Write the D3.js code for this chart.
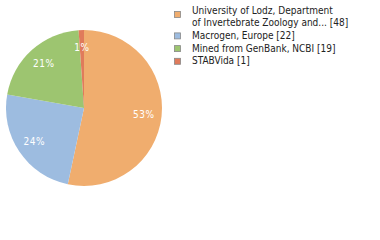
<!DOCTYPE html>
<html>
<head>
<meta charset="utf-8">
<script src="https://cdn.jsdelivr.net/npm/d3@7"></script>
<style>
  body { margin: 0; background: #fff; }
  text { font-family: "DejaVu Sans Condensed", "DejaVu Sans", sans-serif; }
</style>
</head>
<body>
<div id="chart"></div>
<script>
const labels = [
    ["University of Lodz, Department", "of Invertebrate Zoology and... [48]"],
    ["Macrogen, Europe [22]"],
    ["Mined from GenBank, NCBI [19]"],
    ["STABVida [1]"]
];
const counts = [48, 22, 19, 1];
const colors = ["#f0ad6e", "#9dbce0", "#9dc570", "#e07b5b"];

const width = 380, height = 240;
const cx = 84, cy = 108, radius = 78;

const svg = d3.select("#chart")
    .append("svg")
    .attr("width", width)
    .attr("height", height);

const total = d3.sum(counts);
const pie = d3.pie().sort(null).value(d => d)(counts);
const arc = d3.arc().innerRadius(0).outerRadius(radius);
const labelArc = d3.arc().innerRadius(radius * 0.77).outerRadius(radius * 0.77);

const g = svg.append("g").attr("transform", `translate(${cx},${cy})`);

g.selectAll("path")
    .data(pie)
    .enter()
    .append("path")
    .attr("d", arc)
    .attr("fill", (d, i) => colors[i]);

g.selectAll("text.pct")
    .data(pie)
    .enter()
    .append("text")
    .attr("class", "pct")
    .attr("transform", d => `translate(${labelArc.centroid(d)})`)
    .attr("text-anchor", "middle")
    .attr("dy", "0.35em")
    .attr("fill", "#fff")
    .style("font-size", "10px")
    .style("letter-spacing", "0.5px")
    .text(d => Math.round(d.data / total * 100) + "%");

// legend
const lineH = 12.7;
let y = 10;
const legend = svg.append("g");
labels.forEach((lines, i) => {
    legend.append("rect")
        .attr("x", 174.5)
        .attr("y", y - 2.5 + (lines.length - 1) * 4)
        .attr("width", 6)
        .attr("height", 6)
        .attr("fill", colors[i])
        .attr("stroke", "#888")
        .attr("stroke-width", 0.8);
    lines.forEach((t, j) => {
        legend.append("text")
            .attr("x", 192)
            .attr("y", y + j * lineH)
            .attr("dy", "0.35em")
            .attr("fill", "#222")
            .style("font-size", "10px")
            .text(t);
    });
    y += lines.length * lineH;
});
</script>
</body>
</html>
